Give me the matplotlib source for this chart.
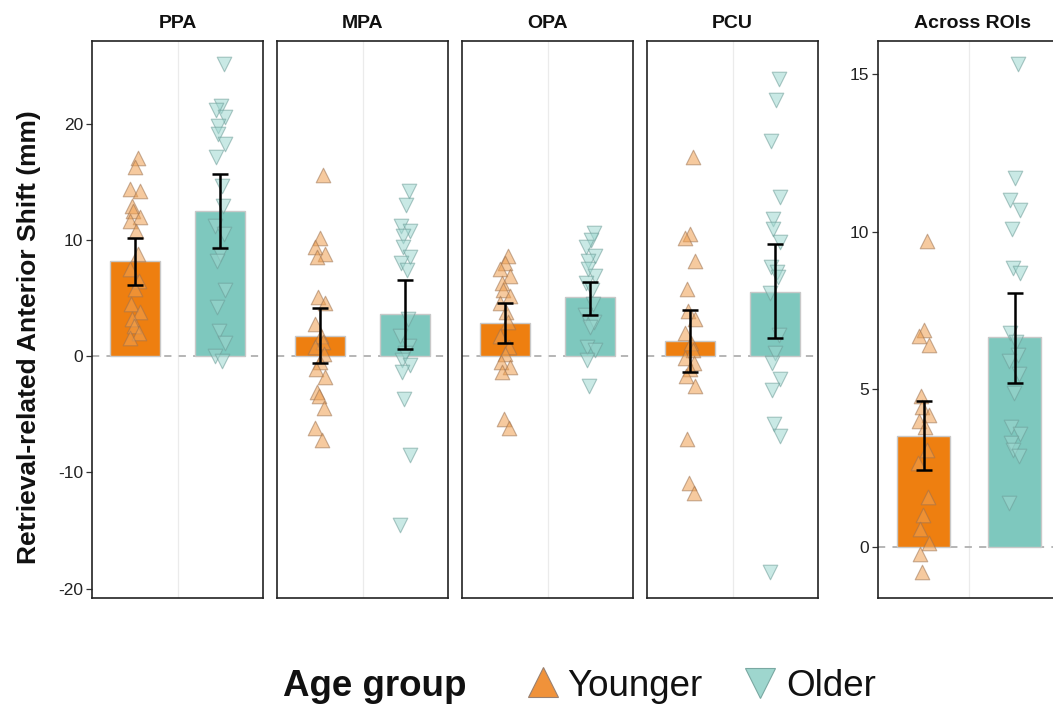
import numpy as np
import matplotlib
matplotlib.use("Agg")
import matplotlib.pyplot as plt
from matplotlib.lines import Line2D

plt.rcParams['font.family'] = ['Liberation Sans', 'DejaVu Sans']

# ---------------- data ----------------
rois = ["PPA", "MPA", "OPA", "PCU", "Across ROIs"]
groups = ["Younger", "Older"]

bar_younger = [8.15, 1.7, 2.86, 1.3, 3.52]
bar_older = [12.46, 3.63, 5.08, 5.54, 6.65]
err_younger_lo = [6.1, -0.6, 1.17, -1.4, 2.44]
err_younger_hi = [10.2, 4.15, 4.6, 4.0, 4.64]
err_older_lo = [9.3, 0.6, 3.54, 1.6, 5.2]
err_older_hi = [15.66, 6.55, 6.37, 9.6, 8.07]

pts_younger_ppa = [17.0, 16.3, 14.4, 14.2, 12.9, 12.5, 12.0, 11.6, 10.8, 8.8,
                   7.5, 6.5, 5.8, 4.5, 3.8, 3.2, 2.6, 2.0, 1.6]
pts_older_ppa = [25.1, 21.5, 21.2, 20.6, 19.8, 19.1, 18.2, 17.1, 14.6, 12.9,
                 11.2, 10.5, 8.8, 8.2, 5.7, 4.2, 2.2, 1.1, 0.0, -0.4]
pts_younger_mpa = [15.6, 10.2, 9.4, 8.8, 8.5, 5.1, 4.6, 2.8, 1.7, 1.2, 0.8,
                   0.2, -0.5, -1.1, -1.8, -3.1, -3.4, -4.5, -6.2, -7.2]
pts_older_mpa = [14.2, 13.0, 11.2, 10.8, 10.3, 9.4, 8.5, 8.0, 7.4, 3.2, 1.7,
                 0.9, 0.3, -0.3, -0.8, -1.4, -3.7, -8.5, -14.5]
pts_younger_opa = [8.6, 8.0, 7.5, 6.9, 6.3, 5.7, 5.2, 4.6, 3.8, 2.9, 1.7, 0.8,
                   0.15, -0.5, -0.9, -1.4, -5.4, -6.2]
pts_older_opa = [10.6, 10.0, 9.4, 8.6, 8.2, 7.5, 6.9, 6.3, 5.7, 4.5, 3.5, 2.9,
                 2.5, 0.8, 0.5, -0.3, -2.6]
pts_younger_pcu = [17.1, 10.5, 10.2, 8.2, 5.75, 3.85, 3.2, 2.0, 1.1, 0.5,
                   -0.15, -0.6, -1.1, -1.7, -2.6, -7.1, -10.9, -11.8]
pts_older_pcu = [23.8, 22.0, 18.5, 13.7, 11.8, 10.9, 9.85, 7.7, 7.2, 6.8, 5.4,
                 1.85, 0.3, -0.6, -2.0, -2.9, -5.8, -6.9, -18.6]
pts_younger_all = [9.7, 6.9, 6.7, 6.4, 4.8, 4.43, 4.2, 4.0, 3.8, 3.07, 2.67,
                   1.6, 1.0, 0.57, 0.11, -0.23, -0.8]
pts_older_all = [15.34, 11.7, 11.0, 10.7, 10.1, 8.86, 8.7, 6.8, 6.5, 6.1, 5.9,
                 5.5, 4.9, 3.8, 3.6, 3.3, 3.07, 2.9, 1.4]

pts_younger = [pts_younger_ppa, pts_younger_mpa, pts_younger_opa,
               pts_younger_pcu, pts_younger_all]
pts_older = [pts_older_ppa, pts_older_mpa, pts_older_opa,
             pts_older_pcu, pts_older_all]

left_yticks = [-20, -10, 0, 10, 20]
right_yticks = [0, 5, 10, 15]

# ---------------- style ----------------
bar_col = {"Younger": "#EE7F10", "Older": "#7EC8BE"}
pt_face = {"Younger": "#F0A050", "Older": "#9ED8D0"}
pt_edge = {"Younger": "#9A7050", "Older": "#6A9A95"}
markers = {"Younger": "^", "Older": "v"}

W, H = 1053, 708
fig = plt.figure(figsize=(W / 100, H / 100), dpi=100)

panel_px = [(92, 263), (277, 448), (462, 633), (647, 818), (878, 1060)]
top_px, bot_px = 41, 598


def jitter(n):
    i = np.arange(n)
    return 0.06 * np.sin(i * 2.3 + 0.7)


for k, roi in enumerate(rois):
    x0, x1 = panel_px[k]
    ax = fig.add_axes([x0 / W, 1 - bot_px / H, (x1 - x0) / W,
                       (bot_px - top_px) / H])
    ax.set_xlim(0.5, 2.5)
    if k < 4:
        ax.set_ylim(-20.8, 27.1)
    else:
        ax.set_ylim(-1.62, 16.06)
    ax.axvline(1.5, color="#EBEBEB", lw=0.9, zorder=0)
    ax.axhline(0, color="#B0B0B0", lw=1.3, ls=(0, (4, 4)), zorder=0.5)

    vals = [bar_younger[k], bar_older[k]]
    lo = [err_younger_lo[k], err_older_lo[k]]
    hi = [err_younger_hi[k], err_older_hi[k]]
    pts = [pts_younger[k], pts_older[k]]
    for j, g in enumerate(groups):
        xc = j + 1
        ax.bar(xc, vals[j], width=0.58, color=bar_col[g],
               edgecolor="#C8C8C8", linewidth=1.0, zorder=1)
        p = np.array(pts[j])
        ax.scatter(xc + jitter(len(p)), p, marker=markers[g], s=110,
                   facecolor=pt_face[g], edgecolor=pt_edge[g],
                   linewidth=0.8, alpha=0.55, zorder=2)
        ax.errorbar(xc, vals[j],
                    yerr=[[vals[j] - lo[j]], [hi[j] - vals[j]]],
                    fmt="none", ecolor="black", elinewidth=1.8,
                    capsize=5.5, capthick=1.8, zorder=3)

    ax.set_xticks([])
    for s in ax.spines.values():
        s.set_color("#222222")
        s.set_linewidth(1.2)
    if k == 0:
        ax.set_yticks(left_yticks)
        ax.set_yticklabels([str(t) for t in left_yticks])
    elif k == 4:
        ax.set_yticks(right_yticks)
        ax.set_yticklabels([str(t) for t in right_yticks])
    else:
        ax.set_yticks([])
    ax.tick_params(axis="y", labelsize=12.5, colors="#333333", length=4,
                   width=0.9, labelcolor="#222222", pad=2.5)
    cx = ((x0 + x1) / 2 if k < 4 else 972)
    fig.text(cx / W, 1 - 23 / H, roi, ha="center", va="center",
             fontsize=14, fontweight="bold", color="#111111")

fig.text(29 / W, 1 - 337 / H, "Retrieval-related Anterior Shift (mm)",
         rotation=90, ha="center", va="center", fontsize=19,
         fontweight="bold", color="#111111")

# ---------------- legend ----------------
ly = 1 - 686 / H
fig.text(283 / W, ly, "Age group", ha="left", va="center", fontsize=26.5,
         fontweight="bold", color="#111111")
fig.add_artist(Line2D([543 / W], [ly + 0.006], transform=fig.transFigure,
                      marker="^", markersize=21, markerfacecolor="#F0923A",
                      markeredgecolor="#9A8070", markeredgewidth=0.8,
                      linestyle="none"))
fig.text(567 / W, ly, "Younger", ha="left", va="center", fontsize=26.5,
         color="#111111")
fig.add_artist(Line2D([760 / W], [ly + 0.004], transform=fig.transFigure,
                      marker="v", markersize=21, markerfacecolor="#9ED6CE",
                      markeredgecolor="#7AA8A2", markeredgewidth=0.8,
                      linestyle="none"))
fig.text(786 / W, ly, "Older", ha="left", va="center", fontsize=26.5,
         color="#111111")

fig.savefig("out.png", dpi=100)
